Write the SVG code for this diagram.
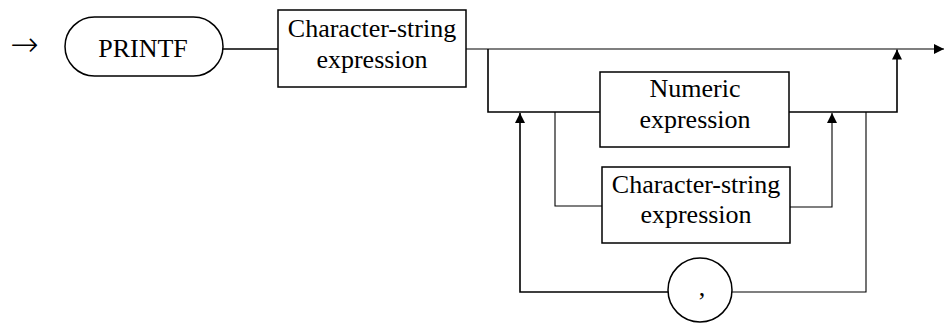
<svg xmlns="http://www.w3.org/2000/svg" width="950" height="323" viewBox="0 0 950 323">
<style>
.box{fill:#fff;stroke:#000;stroke-width:1.5}
.t{font-family:"Liberation Serif","Times New Roman",serif;font-size:26px;fill:#000;text-anchor:middle}
.ln{fill:none;stroke:#000;stroke-width:1.6}
.thin{fill:none;stroke:#000;stroke-width:1.1}
</style>
<defs>
<marker id="ah" markerUnits="userSpaceOnUse" markerWidth="10" markerHeight="10" refX="10" refY="5" orient="auto" viewBox="0 0 10 10">
<path d="M0,0 L10,5 L0,10 z" fill="#000"/>
</marker>
</defs>
<rect width="950" height="323" fill="#fff"/>
<text id="start" x="24.5" y="56" style="font-family:'DejaVu Sans',sans-serif;font-weight:200;font-size:34px;text-anchor:middle;fill:#000">→</text>
<g id="connectors">
<path class="ln" d="M223,49 H278"/>
<path class="thin" d="M466,49 H944" marker-end="url(#ah)"/>
<path class="ln" d="M488,49 V112 H600"/>
<path class="ln" d="M789,112 H897 V49.5" marker-end="url(#ah)"/>
<path class="thin" d="M555,112 V206 H602"/>
<path class="thin" d="M790,207 H832 V113" marker-end="url(#ah)"/>
<path class="thin" d="M866,112 V292 H732"/>
<path class="ln" d="M668,292 H520 V113" marker-end="url(#ah)"/>
</g>
<g id="printf">
<rect class="box" x="65" y="17" width="158" height="59" rx="29.5" ry="29.5"/>
<text class="t" x="143" y="57">PRINTF</text>
</g>
<g id="charstr1">
<rect class="box" x="278" y="10" width="188" height="77"/>
<text class="t" x="372" y="37">Character-string</text>
<text class="t" x="372" y="68">expression</text>
</g>
<g id="numeric">
<rect class="box" x="600" y="72" width="189" height="75"/>
<text class="t" x="695" y="97">Numeric</text>
<text class="t" x="695" y="128">expression</text>
</g>
<g id="charstr2">
<rect class="box" x="602" y="167" width="188" height="76"/>
<text class="t" x="696" y="193">Character-string</text>
<text class="t" x="696" y="223">expression</text>
</g>
<g id="comma">
<circle class="box" cx="700" cy="290" r="32"/>
<text class="t" x="702" y="296">,</text>
</g>
</svg>
